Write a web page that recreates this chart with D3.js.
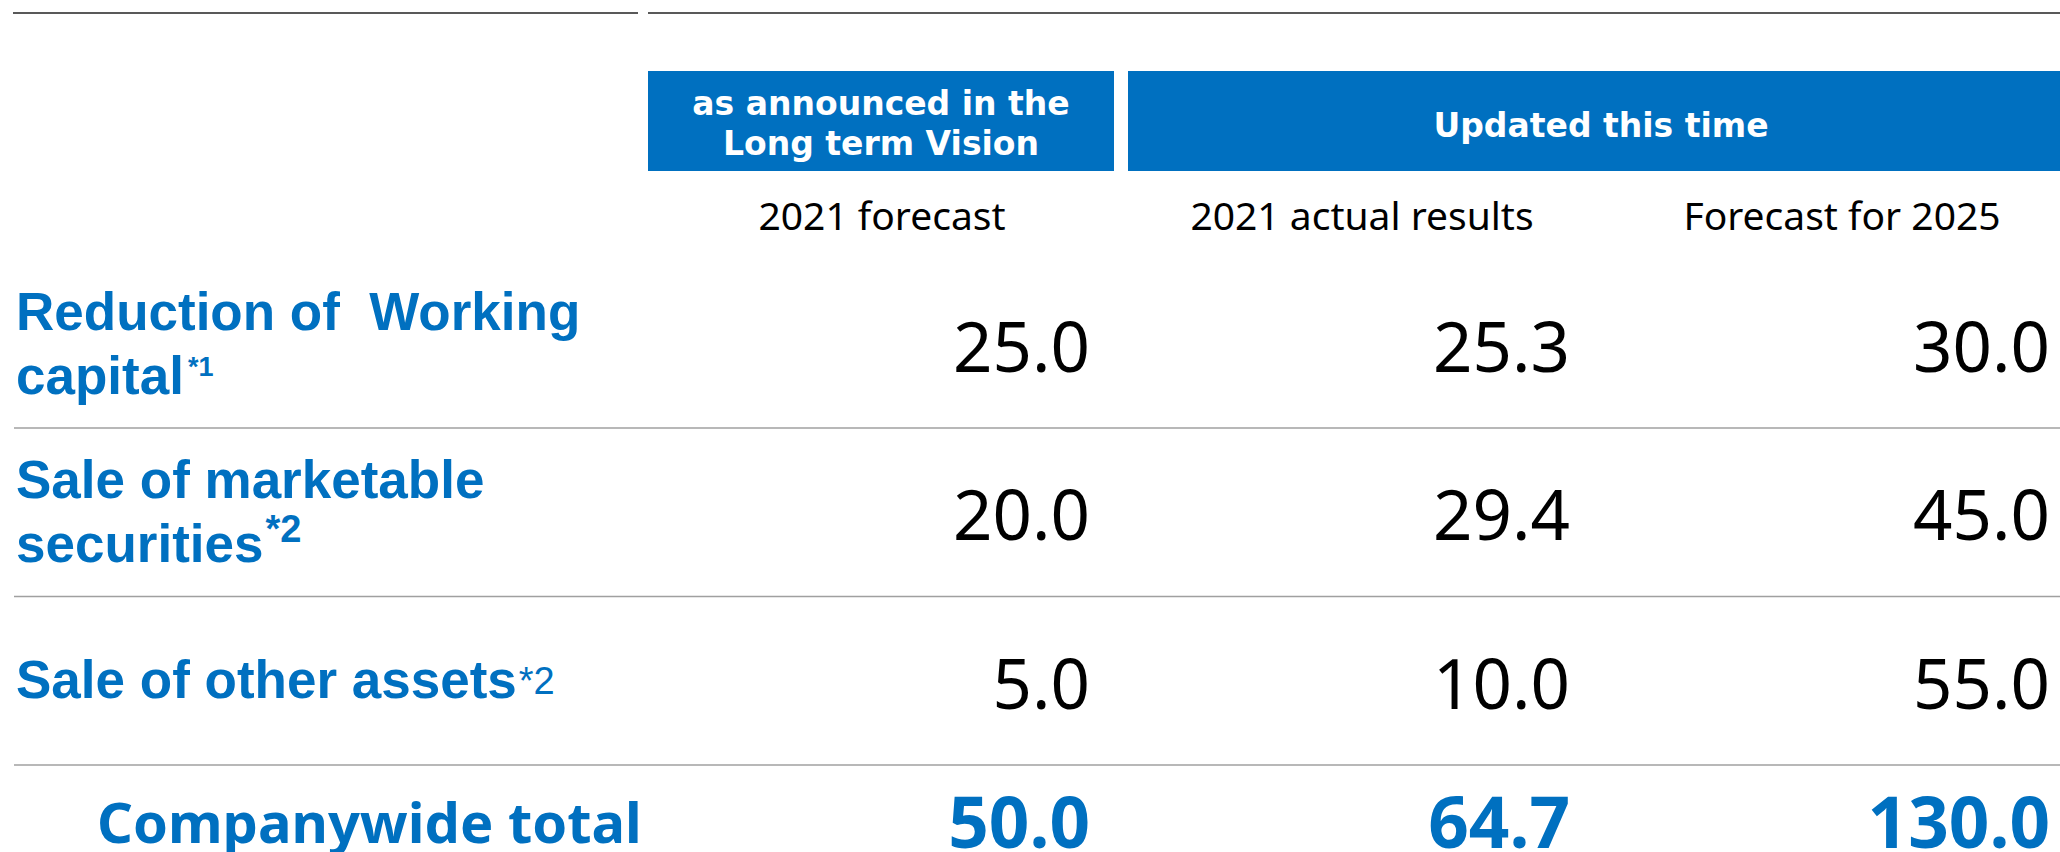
<!DOCTYPE html>
<html>
<head>
<meta charset="utf-8">
<script src="https://cdn.jsdelivr.net/npm/d3@7"></script>
<style>
  body { margin: 0; background: #fff; }
  svg { display: block; }
  .lbl { font-family: "Liberation Sans", Arial, sans-serif; font-weight: bold; fill: #0070C0; white-space: pre; }
</style>
</head>
<body>
<div id="chart"></div>
<script>
// data
var columns = ['2021 forecast', '2021 actual results', 'Forecast for 2025'];
var rows = ['wc', 'sec', 'other'];
var rowLabels = [['Reduction of  Working', 'capital'], ['Sale of marketable', 'securities'], ['Sale of other assets']];
var rowNotes = ['*1', '*2', '*2'];
var forecast2021 = [25.0, 20.0, 5.0];
var actual2021 = [25.3, 29.4, 10.0];
var forecast2025 = [30.0, 45.0, 55.0];
var totals = [50.0, 64.7, 130.0];
var totalLabel = 'Companywide total';
var headerGroups = [
  {label: ['as announced in the', 'Long term Vision'], cols: ['2021 forecast']},
  {label: ['Updated this time'], cols: ['2021 actual results', 'Forecast for 2025']}
];

var width = 2060, height = 852;
var blue = '#0070C0';
var series = [forecast2021, actual2021, forecast2025];

var svg = d3.select('#chart').append('svg')
    .attr('width', width)
    .attr('height', height);

// right edge of each value column
var x = d3.scalePoint()
    .domain(columns)
    .range([1090, 2050]);

var y = d3.scaleBand()
    .domain(rows.concat(['total']))
    .range([259.5, 933.5]);

var fmt = d3.format('.1f');

// top rules
svg.append('line').attr('x1', 13).attr('x2', 638).attr('y1', 13).attr('y2', 13)
    .attr('stroke', '#222').attr('stroke-width', 1.6);
svg.append('line').attr('x1', 648).attr('x2', width).attr('y1', 13).attr('y2', 13)
    .attr('stroke', '#222').attr('stroke-width', 1.6);

// header boxes
headerGroups.forEach(function(g){
    var x0 = x(g.cols[0]) - 442;
    var x1 = Math.min(x(g.cols[g.cols.length - 1]) + 24, width);
    svg.append('rect')
        .attr('x', x0).attr('y', 71)
        .attr('width', x1 - x0).attr('height', 100)
        .attr('fill', blue);
    var cx = (x0 + x1) / 2 + (g.cols.length > 1 ? 7 : 0);
    var n = g.label.length;
    svg.selectAll(null)
        .data(g.label)
        .enter().append('text')
        .attr('x', cx)
        .attr('y', function(d, i){ return (n > 1 ? 135 : 137) + (i - (n - 1) / 2) * 40; })
        .attr('text-anchor', 'middle')
        .attr('font-family', '"DejaVu Sans", Verdana, sans-serif')
        .attr('font-weight', 'bold')
        .attr('font-size', 33)
        .attr('fill', '#fff')
        .text(function(d){ return d; });
});

// column headers
svg.selectAll('.colhead')
    .data(columns)
    .enter().append('text')
    .attr('class', 'colhead')
    .attr('x', function(d){ return x(d) - 208; })
    .attr('y', 230)
    .attr('text-anchor', 'middle')
    .attr('font-family', '"Noto Sans", sans-serif')
    .attr('font-size', 39)
    .attr('fill', '#000')
    .text(function(d){ return d; });

// separators
svg.selectAll('.sep')
    .data(rows)
    .enter().append('line')
    .attr('class', 'sep')
    .attr('x1', 14).attr('x2', width)
    .attr('y1', function(d){ return y(d) + y.bandwidth(); })
    .attr('y2', function(d){ return y(d) + y.bandwidth(); })
    .attr('stroke', '#a0a0a0')
    .attr('stroke-width', 1.6);

// row labels
rows.forEach(function(r, i){
    var lines = rowLabels[i];
    var t = svg.append('text').attr('class', 'lbl').attr('font-size', 53);
    lines.forEach(function(line, j){
        var yy = lines.length > 1 ? y(r) + 70 + j * 64 : y(r) + 101;
        t.append('tspan').attr('x', 16).attr('y', yy).text(line);
    });
    var note = t.append('tspan');
    if(i == 0){
        note.attr('dx', 4).attr('dy', -18).attr('font-size', 27).text(rowNotes[i]);
    }else if(i == 1){
        note.attr('dx', 2).attr('dy', -20).attr('font-size', 38).text(rowNotes[i]);
    }else{
        note.attr('dx', 2).attr('dy', -4).attr('font-size', 38).attr('font-weight', 'normal').text(rowNotes[i]);
    }
});

// values
series.forEach(function(vals, c){
    svg.selectAll(null)
        .data(vals)
        .enter().append('text')
        .attr('x', x(columns[c]))
        .attr('y', function(d, i){ return y(rows[i]) + 112; })
        .attr('text-anchor', 'end')
        .attr('font-family', '"Noto Sans", sans-serif')
        .attr('font-size', 69)
        .attr('fill', '#000')
        .text(function(d){ return fmt(d); });
});

// totals
svg.append('text')
    .attr('x', 97)
    .attr('y', y('total') + 78)
    .attr('font-family', '"Noto Sans", sans-serif')
    .attr('font-weight', 'bold')
    .attr('font-size', 56)
    .attr('fill', blue)
    .text(totalLabel);

svg.selectAll('.total')
    .data(totals)
    .enter().append('text')
    .attr('class', 'total')
    .attr('x', function(d, i){ return x(columns[i]); })
    .attr('y', y('total') + 83)
    .attr('text-anchor', 'end')
    .attr('font-family', '"Noto Sans", sans-serif')
    .attr('font-weight', 'bold')
    .attr('font-size', 71)
    .attr('fill', blue)
    .text(function(d){ return fmt(d); });
</script>
</body>
</html>
